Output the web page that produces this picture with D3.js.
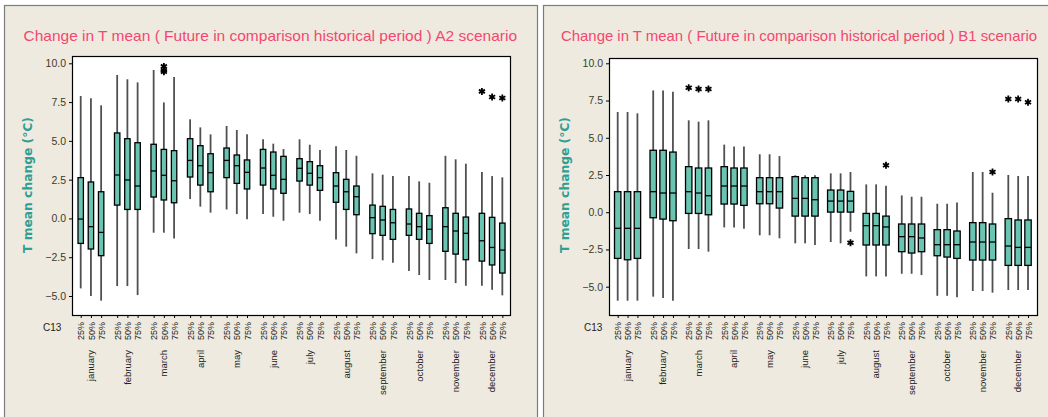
<!DOCTYPE html>
<html><head><meta charset="utf-8">
<script src="https://cdn.jsdelivr.net/npm/d3@7"></script>
<style>body{margin:0;background:#fff}svg{display:block}</style>
</head><body>
<svg id="c" width="1048" height="417"></svg>
<script>
const months = ["january","february","march","april","may","june","july","august","september","october","november","december"];
const percentiles = ["25%","50%","75%"];
const yTicks = [10, 7.5, 5, 2.5, 0, -2.5, -5];
const axisLabel = "C13";
const yTitle = "T mean change (°C)";

// A2 scenario: order january 25%, 50%, 75%, february 25% ...
const a2High = [7.89,7.74,7.29, 9.25,8.97,8.77, 9.57,7.48,9.12, 6.39,5.87,5.42, 5.96,5.70,5.42, 5.10,4.82,4.47,
                5.10,4.75,4.41, 4.65,4.41,4.04, 2.91,2.82,2.73, 2.73,2.39,2.30, 4.04,3.81,3.53, 2.99,2.73,2.65];
const a2Q3   = [2.63,2.35,1.72, 5.51,5.14,4.88, 4.78,4.45,4.37, 5.14,4.69,4.17, 4.54,4.09,3.77, 4.45,4.28,4.00,
                3.85,3.66,3.40, 2.95,2.52,2.09, 0.86,0.78,0.58, 0.61,0.33,0.18, 0.69,0.33,0.09, 0.33,0.07,-0.30];
const a2Med  = [-0.04,-0.53,-0.90, 2.80,2.48,2.09, 3.06,2.78,2.43, 3.74,3.40,2.95, 3.74,3.40,2.97, 3.25,2.78,2.52,
                3.23,2.91,2.63, 2.09,1.72,1.40, 0.05,-0.10,-0.28, -0.36,-0.53,-0.70, -0.53,-0.81,-0.96, -1.44,-1.87,-2.04];
const a2Q1   = [-1.61,-1.97,-2.40, 0.86,0.58,0.58, 1.38,1.19,1.01, 2.67,2.15,1.72, 2.63,2.26,1.90, 2.15,1.90,1.62,
                2.41,2.15,1.81, 1.04,0.58,0.24, -0.98,-1.09,-1.35, -1.09,-1.35,-1.61, -2.12,-2.30,-2.66, -2.75,-3.00,-3.52];
const a2Low  = [-4.51,-5.00,-5.30, -4.36,-4.36,-4.94, -0.92,-0.92,-1.29, 1.25,0.76,0.37, 0.58,0.28,-0.06, 0.28,0.11,-0.15,
                0.37,0.28,-0.15, -1.35,-1.82,-2.25, -2.62,-2.70,-2.85, -3.39,-3.65,-3.97, -3.97,-4.17,-4.34, -4.34,-4.60,-4.96];
const a2OutIdx = [7, 7, 7, 33, 34, 35];
const a2OutVal = [9.45, 9.55, 9.80, 8.19, 7.83, 7.76];

// B1 scenario
const b1High = [6.73,6.73,6.64, 8.18,8.18,8.09, 6.17,6.08,6.17, 4.54,4.42,4.42, 3.89,3.89,3.77, 2.48,2.48,2.48,
                2.61,2.61,2.70, 1.87,1.87,1.78, 1.13,1.04,1.04, 0.57,0.57,0.66, 2.70,2.70,1.31, 2.50,2.43,2.43];
const b1Q3   = [1.38,1.38,1.38, 4.16,4.16,4.04, 3.06,2.97,2.97, 3.06,2.97,2.97, 2.32,2.32,2.32, 2.39,2.32,2.32,
                1.49,1.49,1.40, -0.08,-0.08,-0.26, -0.79,-0.79,-0.79, -1.17,-1.17,-1.26, -0.70,-0.70,-0.79, -0.43,-0.52,-0.52];
const b1Med  = [-1.08,-1.08,-1.08, 1.38,1.29,1.29, 1.38,1.29,1.11, 1.76,1.76,1.76, 1.38,1.38,1.38, 0.93,0.93,0.84,
                0.75,0.75,0.75, -0.90,-0.90,-0.99, -1.64,-1.64,-1.73, -2.18,-2.18,-2.18, -2.00,-2.00,-2.00, -2.27,-2.36,-2.36];
const b1Q1   = [-3.10,-3.19,-3.10, -0.37,-0.46,-0.57, -0.08,-0.08,-0.17, 0.55,0.55,0.46, 0.57,0.57,0.28, -0.26,-0.26,-0.26,
                0.01,0.01,0.01, -2.20,-2.20,-2.20, -2.65,-2.74,-2.65, -2.92,-3.01,-3.10, -3.21,-3.21,-3.21, -3.57,-3.57,-3.57];
const b1Low  = [-5.94,-5.94,-5.94, -5.67,-5.76,-5.94, -2.47,-2.47,-2.65, -1.02,-1.02,-1.11, -1.55,-1.55,-1.75, -2.09,-2.09,-2.20,
                -2.00,-2.09,-1.31, -4.31,-4.31,-4.31, -4.13,-4.13,-4.22, -5.61,-5.61,-5.70, -5.29,-5.29,-5.40, -5.22,-5.22,-5.22];
const b1OutIdx = [6, 7, 8, 20, 23, 32, 33, 34, 35];
const b1OutVal = [8.36, 8.27, 8.27, -2.05, 3.15, 2.70, 7.60, 7.60, 7.38];

const panels = [
  { title: "Change in T mean ( Future in comparison historical  period ) A2 scenario",
    high: a2High, q3: a2Q3, med: a2Med, q1: a2Q1, low: a2Low, outIdx: a2OutIdx, outVal: a2OutVal,
    frame: [4, 537], titleX: [23.5, 517],
    left: 72, right: 510, top: 56, bottom: 315, yAt10: 63.3, yAtM5: 296,
    gap: 3.57, pMin: -0.852, pMax: 42.02, boxW: 5.4, ylabX: 28, c13X: 43 },
  { title: "Change in T mean ( Future in comparison historical  period ) B1 scenario",
    high: b1High, q3: b1Q3, med: b1Med, q1: b1Q1, low: b1Low, outIdx: b1OutIdx, outVal: b1OutVal,
    frame: [543, 1060], titleX: [561, 1037],
    left: 609, right: 1037, top: 58, bottom: 315, yAt10: 63.3, yAtM5: 286.7,
    gap: 3.6, pMin: -0.882, pMax: 42.51, boxW: 6.4, ylabX: 565, c13X: 584 }
];

const svg = d3.select("#c");
svg.append("rect").attr("width", 1048).attr("height", 417).attr("fill", "#ffffff");

const FONT = "'Liberation Sans', Arial, sans-serif";

panels.forEach(p => {
  const g = svg.append("g");
  g.append("rect")
    .attr("x", p.frame[0] + 0.5).attr("y", 5.5)
    .attr("width", p.frame[1] - p.frame[0]).attr("height", 440)
    .attr("fill", "#EEEADF").attr("stroke", "#7d7d7d").attr("stroke-width", 1.2);

  // title
  g.append("text")
    .attr("x", p.titleX[0]).attr("y", 41)
    .attr("textLength", p.titleX[1] - p.titleX[0]).attr("lengthAdjust", "spacingAndGlyphs")
    .attr("font-family", FONT).attr("font-size", 15).attr("fill", "#f4476f")
    .text(p.title);

  // plot area
  g.append("rect")
    .attr("x", p.left + 0.5).attr("y", p.top + 0.5)
    .attr("width", p.right - p.left).attr("height", p.bottom - p.top)
    .attr("fill", "#ffffff").attr("stroke", "#000").attr("stroke-width", 1.2);

  const x = d3.scaleLinear().domain([p.pMin, p.pMax]).range([p.left, p.right]);
  const y = d3.scaleLinear().domain([-5, 10]).range([p.yAtM5, p.yAt10]);
  const idx = d3.range(36);
  const pos = i => Math.floor(i / 3) * p.gap + (i % 3);

  // y axis
  const ya = g.append("g").attr("transform", `translate(${p.left},0)`)
    .call(d3.axisLeft(y).tickValues(yTicks).tickFormat(d3.format(".1f")).tickSize(3).tickPadding(3));
  ya.select(".domain").remove();
  ya.selectAll("line").attr("stroke", "#000");
  ya.selectAll("text").attr("font-family", FONT).attr("font-size", 10.5).attr("fill", "#3a3a2a");

  // y title
  g.append("text")
    .attr("transform", `translate(${p.ylabX + 4},${185}) rotate(-90)`)
    .attr("text-anchor", "middle")
    .attr("textLength", 136).attr("lengthAdjust", "spacingAndGlyphs")
    .attr("font-family", "'DejaVu Sans', sans-serif").attr("font-weight", "bold")
    .attr("font-size", 12).attr("fill", "#2f9f94")
    .text(yTitle);

  // x axis (percentile ticks)
  const xa = g.append("g").attr("transform", `translate(0,${p.bottom})`)
    .call(d3.axisBottom(x).tickValues(idx.map(pos)).tickFormat((d, i) => percentiles[i % 3]).tickSize(3));
  xa.select(".domain").remove();
  xa.selectAll("line").attr("stroke", "#000");
  xa.selectAll("text")
    .attr("font-family", FONT).attr("font-size", 9).attr("fill", "#222")
    .attr("transform", "rotate(-90)")
    .attr("x", -7).attr("y", 0).attr("dy", "0.35em")
    .style("text-anchor", "end");

  // month labels
  g.selectAll("text.month").data(months).join("text").attr("class", "month")
    .attr("transform", (d, m) => `translate(${x(m * p.gap + 1)},${350}) rotate(-90)`)
    .attr("dy", "0.35em").attr("text-anchor", "end")
    .attr("font-family", FONT).attr("font-size", 9.5).attr("fill", "#222")
    .text(d => d);

  g.append("text").attr("x", p.c13X).attr("y", 331)
    .attr("font-family", FONT).attr("font-size", 10).attr("fill", "#222").text(axisLabel);

  // whiskers
  g.selectAll("line.wh").data(idx).join("line").attr("class", "wh")
    .attr("x1", i => x(pos(i))).attr("x2", i => x(pos(i)))
    .attr("y1", i => y(p.high[i])).attr("y2", i => y(p.low[i]))
    .attr("stroke", "#505050").attr("stroke-width", 1.8);

  // boxes
  g.selectAll("rect.box").data(idx).join("rect").attr("class", "box")
    .attr("x", i => x(pos(i)) - p.boxW / 2).attr("width", p.boxW)
    .attr("y", i => y(p.q3[i])).attr("height", i => y(p.q1[i]) - y(p.q3[i]))
    .attr("fill", "#69c4b2").attr("stroke", "#000").attr("stroke-width", 1.3);

  // medians
  g.selectAll("line.med").data(idx).join("line").attr("class", "med")
    .attr("x1", i => x(pos(i)) - p.boxW / 2).attr("x2", i => x(pos(i)) + p.boxW / 2)
    .attr("y1", i => y(p.med[i])).attr("y2", i => y(p.med[i]))
    .attr("stroke", "#000").attr("stroke-width", 1.3);

  // outliers
  const star = d3.symbol(d3.symbolAsterisk, 34)();
  g.selectAll("path.out").data(p.outIdx.map((k, j) => [k, p.outVal[j]])).join("path").attr("class", "out")
    .attr("transform", d => `translate(${x(pos(d[0]))},${y(d[1])})`)
    .attr("d", star).attr("fill", "none").attr("stroke", "#000").attr("stroke-width", 1.8);
});
</script>
</body></html>
